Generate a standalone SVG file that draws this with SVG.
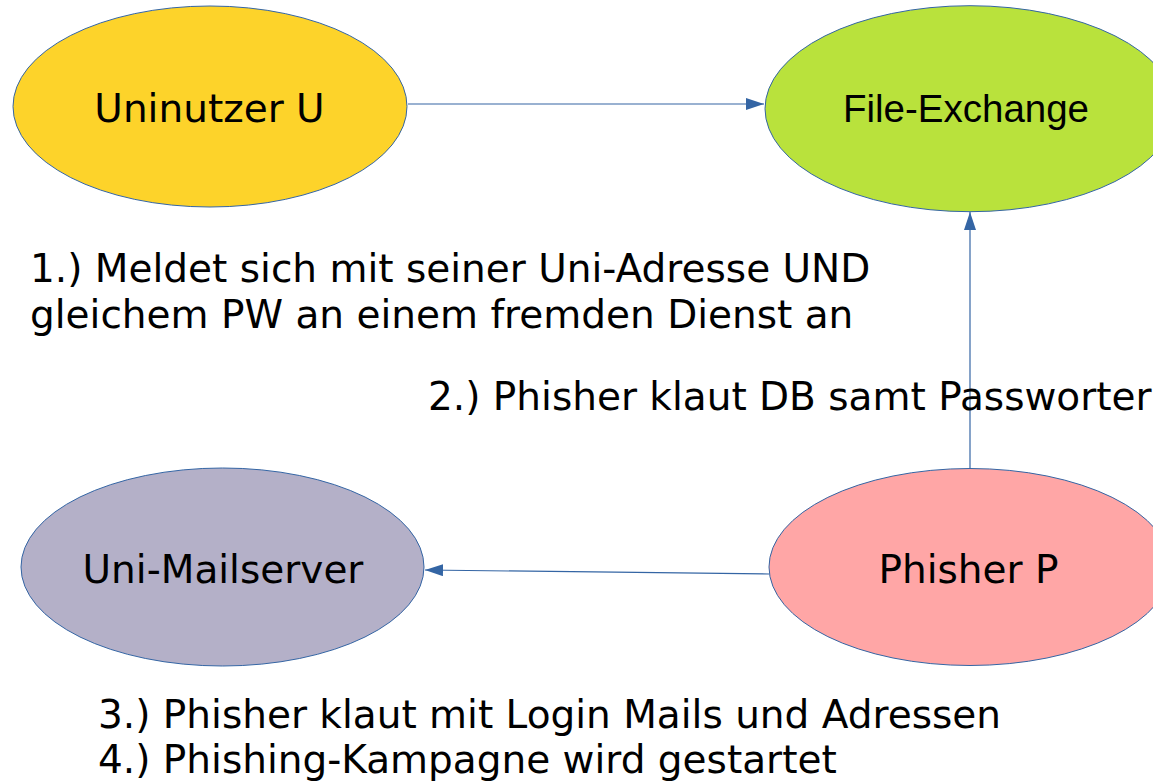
<svg xmlns="http://www.w3.org/2000/svg" width="1153" height="782" viewBox="0 0 1153 782">
<style>
.node{stroke:#3465a4;stroke-width:1}
.lbl{font-family:"DejaVu Sans",sans-serif;font-size:39px;fill:#000;text-anchor:middle}
.lbl2{font-family:"Liberation Sans",Arial,sans-serif;font-size:38.5px;fill:#000;text-anchor:middle}
.note{font-family:"DejaVu Sans",sans-serif;font-size:39px;fill:#000}
.conn{stroke:#3465a4;stroke-width:1.2;fill:none;marker-end:url(#ah)}
</style>
<defs>
<marker id="ah" viewBox="0 0 18 12" refX="18" refY="6" markerWidth="18" markerHeight="12" markerUnits="userSpaceOnUse" orient="auto">
<path d="M0,0 L18,6 L0,12 Z" fill="#3465a4"/>
</marker>
</defs>
<rect width="1153" height="782" fill="#fff"/>
<g id="uninutzer">
<ellipse class="node" cx="210" cy="106.5" rx="197" ry="100.5" fill="#fdd32a"/>
<text class="lbl" x="209.5" y="122">Uninutzer U</text>
</g>
<g id="file-exchange">
<ellipse class="node" cx="970" cy="108.7" rx="205" ry="103" fill="#b9e23c"/>
<text class="lbl2" x="966" y="122">File-Exchange</text>
</g>
<g id="uni-mailserver">
<ellipse class="node" cx="222.5" cy="567" rx="201.5" ry="99" fill="#b4b0c8"/>
<text class="lbl" x="223" y="583">Uni-Mailserver</text>
</g>
<g id="phisher">
<ellipse class="node" cx="970" cy="567" rx="201" ry="98.5" fill="#ffa6a6"/>
<text class="lbl" x="968.5" y="583">Phisher P</text>
</g>
<g id="connectors">
<line class="conn" x1="408" y1="104" x2="764" y2="104"/>
<line class="conn" x1="970" y1="468" x2="970" y2="212"/>
<line class="conn" x1="769" y1="574" x2="425" y2="570"/>
</g>
<g id="notes">
<text class="note" x="30" y="282">1.) Meldet sich mit seiner Uni-Adresse UND</text>
<text class="note" x="30" y="328">gleichem PW an einem fremden Dienst an</text>
<text class="note" x="428" y="410">2.) Phisher klaut DB samt Passworter</text>
<text class="note" x="98" y="728">3.) Phisher klaut mit Login Mails und Adressen</text>
<text class="note" x="98" y="773">4.) Phishing-Kampagne wird gestartet</text>
</g>
</svg>
